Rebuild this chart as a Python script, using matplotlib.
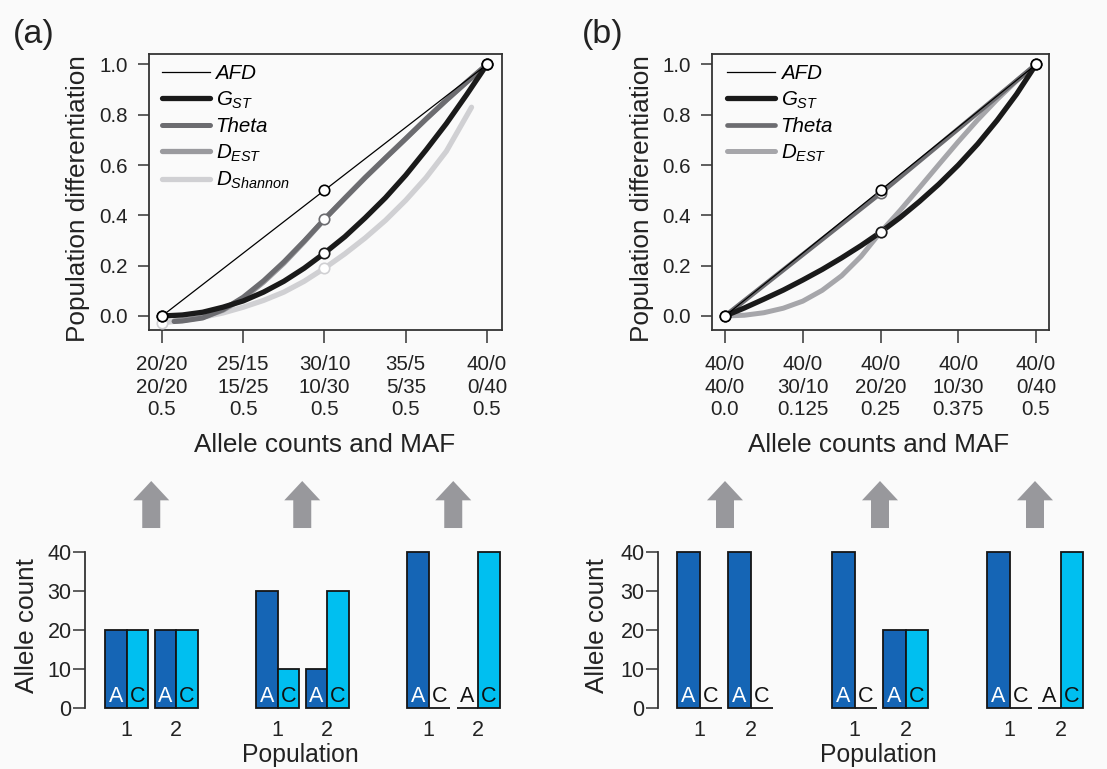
import matplotlib
matplotlib.use('Agg')
import matplotlib.pyplot as plt
from matplotlib.patches import FancyArrow

plt.rcParams['font.family'] = ['Liberation Sans', 'DejaVu Sans']
plt.rcParams['mathtext.fontset'] = 'custom'
plt.rcParams['mathtext.it'] = 'Liberation Sans:italic'
plt.rcParams['mathtext.rm'] = 'Liberation Sans'
plt.rcParams['mathtext.sf'] = 'Liberation Sans'

# ---------------- data: top panels ----------------
# panel (a): allele counts per population and MAF at each tick
pop1_A_a = [20, 25, 30, 35, 40]
pop1_C_a = [20, 15, 10, 5, 0]
pop2_A_a = [20, 15, 10, 5, 0]
pop2_C_a = [20, 25, 30, 35, 40]
maf_a = ['0.5', '0.5', '0.5', '0.5', '0.5']

# panel (b)
pop1_A_b = [40, 40, 40, 40, 40]
pop1_C_b = [0, 0, 0, 0, 0]
pop2_A_b = [40, 30, 20, 10, 0]
pop2_C_b = [0, 10, 20, 30, 40]
maf_b = ['0.0', '0.125', '0.25', '0.375', '0.5']

# curves (x in tick units 0..4)
x_afd = [0, 2, 4]
afd_a = [0.0, 0.5, 1.0]
x_gst_a = [0, 0.25, 0.5, 0.75, 1, 1.25, 1.5, 1.75, 2, 2.25, 2.5, 2.75, 3, 3.25, 3.5, 3.75, 4]
gst_a = [0.0, 0.004, 0.015, 0.035, 0.06, 0.095, 0.138, 0.19, 0.25,
         0.315, 0.39, 0.47, 0.56, 0.66, 0.765, 0.88, 1.0]
x_theta_a = [0.15, 0.25, 0.5, 0.75, 1, 1.25, 1.5, 1.75, 2, 2.25, 2.5, 2.75, 3, 3.25, 3.5, 3.75, 4]
theta_a = [-0.022, -0.02, -0.008, 0.025, 0.075, 0.14, 0.215, 0.298, 0.385,
           0.468, 0.55, 0.628, 0.705, 0.783, 0.858, 0.93, 1.0]
x_dest_a = [0.15, 0.25, 0.5, 0.75, 1, 1.25, 1.5, 1.75, 2, 2.25, 2.5, 2.75, 3, 3.25, 3.5, 3.75, 4]
dest_a = [-0.02, -0.017, -0.005, 0.023, 0.07, 0.135, 0.21, 0.295, 0.385,
          0.468, 0.55, 0.628, 0.705, 0.783, 0.858, 0.93, 1.0]
x_dsh_a = [0, 0.25, 0.5, 0.75, 1, 1.25, 1.5, 1.75, 2, 2.25, 2.5, 2.75, 3, 3.25, 3.5, 3.81]
dsh_a = [-0.027, -0.018, -0.005, 0.012, 0.035, 0.062, 0.095, 0.138, 0.19,
         0.247, 0.31, 0.38, 0.46, 0.55, 0.655, 0.83]

afd_b = [0.0, 0.5, 1.0]
x_b = [0, 0.25, 0.5, 0.75, 1, 1.25, 1.5, 1.75, 2, 2.25, 2.5, 2.75, 3, 3.25, 3.5, 3.75, 4]
gst_b = [0.0, 0.032, 0.067, 0.103, 0.143, 0.185, 0.231, 0.28, 0.333,
         0.391, 0.455, 0.524, 0.6, 0.684, 0.778, 0.882, 1.0]
theta_b = [0.0, 0.061, 0.122, 0.183, 0.244, 0.305, 0.366, 0.427, 0.488,
           0.552, 0.616, 0.68, 0.744, 0.808, 0.872, 0.936, 1.0]
dest_b = [0.0, 0.003, 0.013, 0.031, 0.059, 0.102, 0.16, 0.237, 0.333,
          0.419, 0.51, 0.602, 0.693, 0.78, 0.861, 0.935, 1.0]

# ---------------- data: bottom panels ----------------
# allele counts [pop1, pop2] for each of the three scenarios
bottom_a_A = [[20, 20], [30, 10], [40, 0]]
bottom_a_C = [[20, 20], [10, 30], [0, 40]]
bottom_b_A = [[40, 40], [40, 20], [40, 0]]
bottom_b_C = [[0, 0], [0, 20], [0, 40]]
pop_labels = ['1', '2']
allele_labels = ['A', 'C']

# ---------------- style ----------------
BG = '#fafafa'
DARK = '#222222'
SPINE = '#333333'
C_AFD = '#000000'
C_GST = '#1a1a1a'
C_THETA = '#6c6c70'
C_DEST_A = '#9a9a9e'
C_DEST_B = '#a6a6aa'
C_DSH = '#d0d0d3'
C_ABAR = '#1565b5'
C_CBAR = '#00bff0'
C_ARROW = '#98989c'

W, H = 1107, 769
fig = plt.figure(figsize=(W / 100, H / 100), dpi=100, facecolor=BG)


def px_axes(l, t, r, b):
    return fig.add_axes([l / W, 1 - b / H, (r - l) / W, (b - t) / H])


def style_top(ax, labels):
    ax.set_facecolor(BG)
    for s in ax.spines.values():
        s.set_color(SPINE)
        s.set_linewidth(1.3)
    ax.set_ylim(-0.0557, 1.0417)
    ax.set_yticks([0, 0.2, 0.4, 0.6, 0.8, 1.0])
    ax.set_yticklabels(['0.0', '0.2', '0.4', '0.6', '0.8', '1.0'])
    ax.set_xticks(range(len(labels)))
    ax.set_xticklabels(labels, linespacing=1.24)
    ax.tick_params(axis='both', direction='out', width=1.1, color=SPINE,
                   labelcolor=DARK, labelsize=14.8)
    ax.tick_params(axis='y', length=8, pad=7)
    ax.tick_params(axis='x', length=9, pad=9)


def markers(ax, xs, ys, color, at=(0, 2, 4)):
    mx = [x for x in xs if x in at]
    my = [y for x, y in zip(xs, ys) if x in at]
    ax.plot(mx, my, 'o', ms=7.5, mfc='white', mec=color, mew=1.2, zorder=6)


def legend(ax, handles, labels, xa):
    ax.legend(handles, labels, loc='upper left', bbox_to_anchor=(xa, 0.962),
              frameon=False, borderpad=0, borderaxespad=0, handlelength=2.35,
              handletextpad=0.25, labelspacing=0.3,
              prop={'family': 'Liberation Sans', 'style': 'italic', 'size': 14.8})


# ---------- top (a) ----------
axa = px_axes(149, 54, 502, 330)
labels_a = [f'{a}/{c}\n{a2}/{c2}\n{m}' for a, c, a2, c2, m in
            zip(pop1_A_a, pop1_C_a, pop2_A_a, pop2_C_a, maf_a)]
style_top(axa, labels_a)
axa.set_xlim(-0.16, 4.185)
l_dsh, = axa.plot(x_dsh_a, dsh_a, color=C_DSH, lw=3.8, solid_capstyle='round', zorder=2)
l_dest, = axa.plot(x_dest_a, dest_a, color=C_DEST_A, lw=3.8, solid_capstyle='round', zorder=2)
l_theta, = axa.plot(x_theta_a, theta_a, color=C_THETA, lw=3.6, solid_capstyle='round', zorder=3)
l_gst, = axa.plot(x_gst_a, gst_a, color=C_GST, lw=3.8, solid_capstyle='round', zorder=4)
l_afd, = axa.plot(x_afd, afd_a, color=C_AFD, lw=0.9, zorder=5)
markers(axa, x_dsh_a, dsh_a, C_DSH)
markers(axa, x_theta_a, theta_a, C_THETA)
markers(axa, x_gst_a, gst_a, C_GST)
markers(axa, x_afd, afd_a, C_AFD)
legend(axa, [l_afd, l_gst, l_theta, l_dest, l_dsh],
       ['AFD', r'$G_{ST}$', 'Theta', r'$D_{EST}$', r'$D_{Shannon}$'], 0.037)

# ---------- top (b) ----------
axb = px_axes(712, 54, 1049, 330)
labels_b = [f'{a}/{c}\n{a2}/{c2}\n{m}' for a, c, a2, c2, m in
            zip(pop1_A_b, pop1_C_b, pop2_A_b, pop2_C_b, maf_b)]
style_top(axb, labels_b)
axb.set_xlim(-0.167, 4.167)
m_dest, = axb.plot(x_b, dest_b, color=C_DEST_B, lw=3.6, solid_capstyle='round', zorder=2)
m_theta, = axb.plot(x_b, theta_b, color=C_THETA, lw=3.4, solid_capstyle='round', zorder=3)
m_gst, = axb.plot(x_b, gst_b, color=C_GST, lw=3.8, solid_capstyle='round', zorder=4)
m_afd, = axb.plot(x_afd, afd_b, color=C_AFD, lw=0.9, zorder=5)
markers(axb, x_b, dest_b, C_DEST_B, at=(2,))
markers(axb, x_b, theta_b, C_THETA, at=(2,))
markers(axb, x_b, gst_b, C_GST)
markers(axb, x_afd, afd_b, C_AFD)
legend(axb, [m_afd, m_gst, m_theta, m_dest],
       ['AFD', r'$G_{ST}$', 'Theta', r'$D_{EST}$'], 0.045)


# ---------- bottom panels ----------
def bottom(l, r, bw, off, gs, po, counts_A, counts_C):
    ax = px_axes(l, 552, r, 708)
    ax.set_facecolor('none')
    ax.set_xlim(0, (r - l) / bw)
    ax.set_ylim(0, 40)
    for k in ('top', 'right', 'bottom'):
        ax.spines[k].set_visible(False)
    ax.spines['left'].set_color(SPINE)
    ax.spines['left'].set_linewidth(1.3)
    ax.set_yticks([0, 10, 20, 30, 40])
    ax.tick_params(axis='y', direction='out', length=8.6, width=1.1, color=SPINE,
                   labelcolor=DARK, labelsize=15.5, pad=1)
    ticks, tlabels = [], []
    for g, (ca, cc) in enumerate(zip(counts_A, counts_C)):
        g0 = off + g * gs
        for p in range(2):
            x0 = g0 + p * po
            for k, (val, col) in enumerate(((ca[p], C_ABAR), (cc[p], C_CBAR))):
                ax.bar(x0 + k, val, width=1, align='edge', color=col,
                       edgecolor='#151515', linewidth=1.3, clip_on=False, zorder=2)
                tc = 'white' if (k == 0 and val > 0) else '#111111'
                ax.text(x0 + k + 0.5, 1.6, allele_labels[k], ha='center',
                        va='baseline', color=tc, fontsize=15.5, zorder=3)
            ticks.append(x0 + 1)
            tlabels.append(pop_labels[p])
        cx = g0 + (po + 2) / 2
        arr = FancyArrow(cx, 46.15, 0, 12.05, width=18 / bw, head_width=36 / bw,
                         head_length=4.95, length_includes_head=True,
                         color=C_ARROW, lw=0, clip_on=False)
        ax.add_patch(arr)
    ax.set_xticks(ticks)
    ax.set_xticklabels(tlabels)
    ax.tick_params(axis='x', length=0, pad=9, labelsize=15.5, labelcolor=DARK)
    return ax


bottom(85, 520, 21.5, 20 / 21.5, 151 / 21.5, 49.5 / 21.5, bottom_a_A, bottom_a_C)
bottom(658, 1105, 22.5, 19 / 22.5, 155 / 22.5, 51 / 22.5, bottom_b_A, bottom_b_C)

# ---------- labels ----------
def ftext(x, y, s, **kw):
    fig.text(x / W, 1 - y / H, s, ha='center', va='center', color=DARK, **kw)


ftext(78, 199, 'Population differentiation', rotation=90, fontsize=18.8)
ftext(642, 199, 'Population differentiation', rotation=90, fontsize=18.8)
ftext(325, 445, 'Allele counts and MAF', fontsize=18.8)
ftext(879, 445, 'Allele counts and MAF', fontsize=18.8)
ftext(27, 626, 'Allele count', rotation=90, fontsize=18.8)
ftext(597, 626, 'Allele count', rotation=90, fontsize=18.8)
ftext(300, 755, 'Population', fontsize=17.8)
ftext(878, 755, 'Population', fontsize=17.8)
ftext(34, 35, '(a)', fontsize=24.5)
ftext(603, 35, '(b)', fontsize=24.5)

fig.savefig('out.png', dpi=100, facecolor=BG)
